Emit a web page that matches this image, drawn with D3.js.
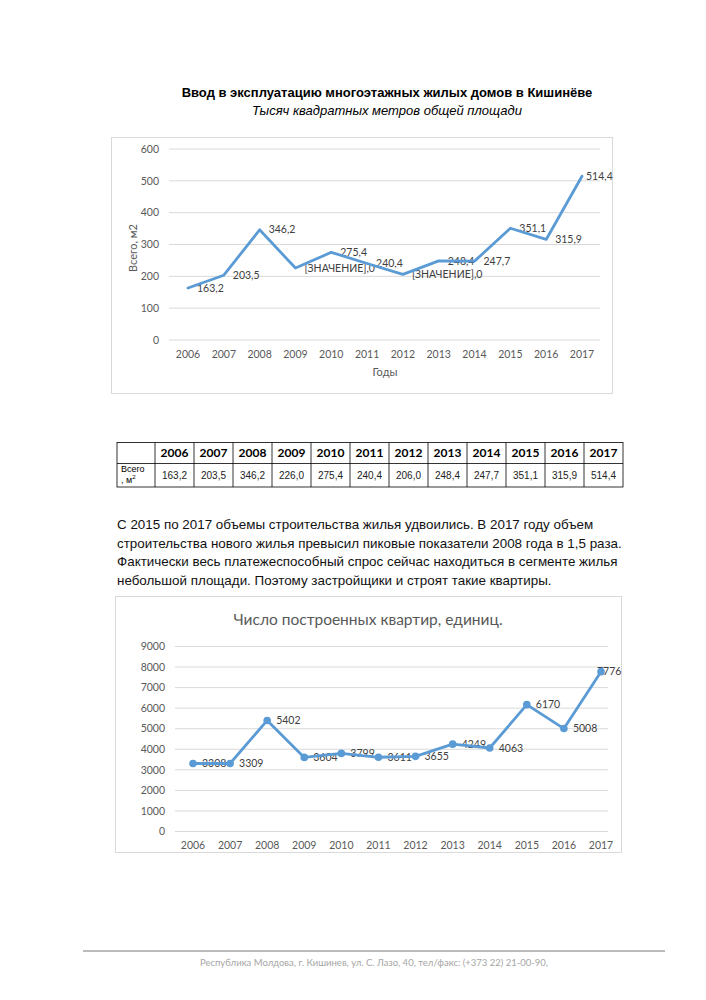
<!DOCTYPE html>
<html lang="ru">
  <head>
    <meta charset="UTF-8" />
    <title>Ввод в эксплуатацию жилья</title>
    <script src="https://d3js.org/d3.v7.min.js"></script>
    <style>
      body { margin: 0; background: #fff; }
      svg { display: block; }
    </style>
  </head>
  <body>
    <svg width="706" height="1000"></svg>
    <script>
      // данные
      const years = ["2006", "2007", "2008", "2009", "2010", "2011", "2012", "2013", "2014", "2015", "2016", "2017"];
      const area = [163.2, 203.5, 346.2, 226.0, 275.4, 240.4, 206.0, 248.4, 247.7, 351.1, 315.9, 514.4];
      const areaLabels = ["163,2", "203,5", "346,2", "[ЗНАЧЕНИЕ],0", "275,4", "240,4", "[ЗНАЧЕНИЕ],0", "248,4", "247,7", "351,1", "315,9", "514,4"];
      const areaTable = ["163,2", "203,5", "346,2", "226,0", "275,4", "240,4", "206,0", "248,4", "247,7", "351,1", "315,9", "514,4"];
      const areaTicks = [0, 100, 200, 300, 400, 500, 600];
      const flats = [3308, 3309, 5402, 3604, 3799, 3611, 3655, 4249, 4063, 6170, 5008, 7776];
      const flatTicks = [0, 1000, 2000, 3000, 4000, 5000, 6000, 7000, 8000, 9000];
      const paragraph = [
        "С 2015 по 2017 объемы строительства жилья удвоились. В 2017 году объем",
        "строительства нового жилья превысил пиковые показатели 2008 года в 1,5 раза.",
        "Фактически весь платежеспособный спрос сейчас находиться в сегменте жилья",
        "небольшой площади. Поэтому застройщики и строят такие квартиры."
      ];

      const blue = "#5b9bd5",
        grid = "#d9d9d9",
        txt = "#595959",
        chartFont = "Lato, 'Open Sans', sans-serif";

      const svg = d3.select("svg");

      // заголовок
      svg.append("text").attr("x", 387).attr("y", 97)
        .attr("text-anchor", "middle").attr("font-family", "Arial, 'Liberation Sans'")
        .attr("font-size", 13).attr("font-weight", "bold").attr("fill", "#000")
        .text("Ввод в эксплуатацию многоэтажных жилых домов в Кишинёве");
      svg.append("text").attr("x", 387).attr("y", 115)
        .attr("text-anchor", "middle").attr("font-family", "Arial, 'Liberation Sans'")
        .attr("font-size", 13).attr("font-style", "italic").attr("fill", "#000")
        .text("Тысяч квадратных метров общей площади");

      function lineChart(opt) {
        const g = svg.append("g");
        g.append("rect").attr("x", opt.box[0]).attr("y", opt.box[1])
          .attr("width", opt.box[2]).attr("height", opt.box[3])
          .attr("fill", "#fff").attr("stroke", grid).attr("stroke-width", 1);

        const x = d3.scalePoint().domain(years).range(opt.xr).padding(0);
        const y = d3.scaleLinear().domain(opt.yd).range(opt.yr);

        g.selectAll(".gl").data(opt.ticks).enter().append("line")
          .attr("x1", opt.gx[0]).attr("x2", opt.gx[1])
          .attr("y1", d => y(d)).attr("y2", d => y(d))
          .attr("stroke", grid).attr("stroke-width", 1);

        g.selectAll(".yt").data(opt.ticks).enter().append("text")
          .attr("x", opt.gx[0] - 10).attr("y", d => y(d)).attr("dy", "0.35em")
          .attr("text-anchor", "end").attr("font-family", chartFont)
          .attr("font-size", 10.5).attr("fill", txt).text(d => d);

        g.selectAll(".xt").data(years).enter().append("text")
          .attr("x", d => x(d)).attr("y", opt.xLabelY).attr("dy", "0.35em")
          .attr("text-anchor", "middle").attr("font-family", chartFont)
          .attr("font-size", 10.5).attr("fill", txt).text(d => d);

        // подписи данных (под линией, как в Excel)
        g.selectAll(".dl").data(opt.values).enter().append("text")
          .attr("x", (d, i) => x(years[i]) + (i === opt.values.length - 1 ? opt.lastDx : opt.labelDx))
          .attr("y", d => y(d)).attr("dy", "0.35em")
          .attr("font-family", chartFont).attr("font-size", 10.5).attr("fill", "#404040")
          .text((d, i) => opt.labels[i]);

        const line = d3.line().x((d, i) => x(years[i])).y(d => y(d));
        g.append("path").datum(opt.values).attr("d", line)
          .attr("fill", "none").attr("stroke", blue).attr("stroke-width", 2.8)
          .attr("stroke-linejoin", "round").attr("stroke-linecap", "round");

        if (opt.markers) {
          g.selectAll(".mk").data(opt.values).enter().append("circle")
            .attr("cx", (d, i) => x(years[i])).attr("cy", d => y(d))
            .attr("r", 3.8).attr("fill", blue);
        }
        return g;
      }

      // график 1
      const g1 = lineChart({
        box: [111.5, 137.5, 501, 256],
        xr: [188, 582],
        yd: [0, 600],
        yr: [340, 149],
        gx: [169, 600],
        ticks: areaTicks,
        xLabelY: 354,
        values: area,
        labels: areaLabels,
        labelDx: 9,
        lastDx: 4,
        markers: false
      });
      g1.append("text").attr("x", 385).attr("y", 372).attr("dy", "0.35em")
        .attr("text-anchor", "middle").attr("font-family", chartFont)
        .attr("font-size", 11).attr("fill", txt).text("Годы");
      g1.append("text").attr("transform", "translate(133,248) rotate(-90)").attr("dy", "0.35em")
        .attr("text-anchor", "middle").attr("font-family", chartFont)
        .attr("font-size", 11).attr("fill", txt).text("Всего, м2");

      // таблица
      const tx0 = 117, tFirst = 38, tCol = 39, ty0 = 442.5, tr1 = 21, tr2 = 23.5;
      const tg = svg.append("g").attr("font-family", "Arial, 'Liberation Sans'");
      const tW = tFirst + tCol * years.length;
      tg.append("rect").attr("x", tx0).attr("y", ty0).attr("width", tW).attr("height", tr1 + tr2)
        .attr("fill", "none").attr("stroke", "#000").attr("stroke-width", 0.8);
      tg.append("line").attr("x1", tx0).attr("x2", tx0 + tW).attr("y1", ty0 + tr1).attr("y2", ty0 + tr1)
        .attr("stroke", "#000").attr("stroke-width", 0.8);
      tg.selectAll(".cl").data(years).enter().append("line")
        .attr("x1", (d, i) => tx0 + tFirst + i * tCol).attr("x2", (d, i) => tx0 + tFirst + i * tCol)
        .attr("y1", ty0).attr("y2", ty0 + tr1 + tr2).attr("stroke", "#000").attr("stroke-width", 0.8);
      tg.selectAll(".hy").data(years).enter().append("text")
        .attr("x", (d, i) => tx0 + tFirst + i * tCol + tCol / 2).attr("y", ty0 + tr1 / 2).attr("dy", "0.35em")
        .attr("text-anchor", "middle").attr("font-family", "Lato, 'Open Sans', sans-serif")
        .attr("font-weight", "bold").attr("font-size", 12).text(d => d);
      tg.selectAll(".vv").data(areaTable).enter().append("text")
        .attr("x", (d, i) => tx0 + tFirst + i * tCol + tCol / 2).attr("y", ty0 + tr1 + tr2 / 2).attr("dy", "0.35em")
        .attr("text-anchor", "middle").attr("font-size", 10).attr("fill", "#222").text(d => d);
      tg.append("text").attr("x", tx0 + 4).attr("y", ty0 + tr1 + 8).attr("font-size", 9).text("Всего");
      const t2 = tg.append("text").attr("x", tx0 + 4).attr("y", ty0 + tr1 + 19).attr("font-size", 9);
      t2.append("tspan").text(", м");
      t2.append("tspan").attr("dy", -4).attr("font-size", 6).text("2");

      // текст
      svg.append("g").selectAll("text").data(paragraph).enter().append("text")
        .attr("x", 117).attr("y", (d, i) => 529 + i * 18.5)
        .attr("font-family", "Arial, 'Liberation Sans'").attr("font-size", 13.4).attr("fill", "#111")
        .text(d => d);

      // график 2
      const g2 = lineChart({
        box: [115.5, 596.5, 506, 256],
        xr: [193, 601],
        yd: [0, 9000],
        yr: [831.5, 646.5],
        gx: [175, 608],
        ticks: flatTicks,
        xLabelY: 845,
        values: flats,
        labels: flats.map(String),
        labelDx: 9,
        lastDx: -4,
        markers: true
      });
      g2.append("text").attr("x", 368).attr("y", 620).attr("dy", "0.35em")
        .attr("text-anchor", "middle").attr("font-family", chartFont)
        .attr("font-size", 15.5).attr("fill", txt).text("Число построенных квартир, единиц.");

      // подвал
      svg.append("line").attr("x1", 83).attr("x2", 665).attr("y1", 951).attr("y2", 951)
        .attr("stroke", "#555").attr("stroke-width", 0.8);
      svg.append("text").attr("x", 374).attr("y", 963).attr("dy", "0.35em")
        .attr("text-anchor", "middle").attr("font-family", chartFont)
        .attr("font-size", 9.5).attr("fill", "#a6a6a6")
        .text("Республика Молдова, г. Кишинев, ул. С. Лазо, 40, тел/факс: (+373 22) 21-00-90,");
    </script>
  </body>
</html>
